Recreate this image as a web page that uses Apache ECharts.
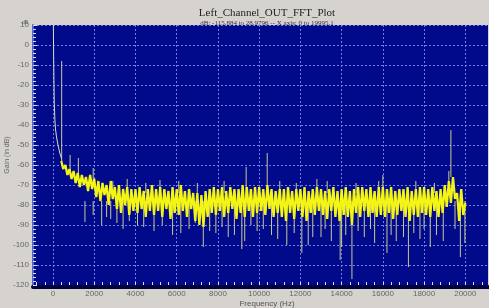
<!DOCTYPE html>
<html>
<head>
<meta charset="utf-8">
<script src="https://cdn.jsdelivr.net/npm/echarts@6/dist/echarts.min.js"></script>
<style>
  html, body { margin: 0; padding: 0; background: #d6d3ce; }
  #myChart { width: 489px; height: 308px; }
</style>
</head>
<body>
<div id="myChart"></div>
<script>
// x tick labels (Hz)
var xTicks = [0, 2000, 4000, 6000, 8000, 10000, 12000, 14000, 16000, 18000, 20000];
var xMinorStep = 400;

// steep low-frequency roll-off at the left edge
var lowFreq = [15, 30, 45, 63, 90, 121, 170, 243, 330, 420];
var lowGain = [14, -5, -18, -29, -37, -42, -46, -50, -54, -57];

// noise floor, one value every 100 Hz from 400 Hz to 20000 Hz
var noiseStart = 400;
var noiseStep = 100;
var noiseGain = [
  -58, -62, -60, -65, -62, -67,
  -63, -69, -64, -71, -65, -70, -66, -73, -65, -72,
  -67, -76, -68, -78, -69, -75, -70, -80, -68, -77,
  -71, -82, -70, -84, -72, -80, -71, -85, -72, -83,
  -72, -84, -71, -82, -73, -86, -72, -83, -70, -85,
  -72, -83, -71, -86, -72, -82, -73, -87, -71, -84,
  -72, -85, -70, -83, -73, -86, -72, -82, -74, -88,
  -74, -90, -75, -91, -73, -86, -72, -84, -71, -85,
  -72, -83, -71, -86, -73, -84, -71, -82, -72, -87,
  -72, -84, -70, -86, -71, -83, -72, -86, -71, -84,
  -71, -83, -72, -85, -70, -82, -72, -86, -73, -84,
  -72, -86, -72, -88, -71, -84, -73, -87, -72, -83,
  -72, -86, -71, -88, -73, -84, -72, -85, -71, -83,
  -72, -85, -73, -87, -72, -83, -71, -86, -73, -88,
  -72, -85, -71, -86, -73, -90, -72, -84, -71, -86,
  -71, -83, -72, -86, -71, -84, -73, -86, -71, -85,
  -71, -86, -72, -84, -71, -87, -73, -85, -72, -83,
  -72, -86, -71, -88, -73, -85, -72, -86, -71, -84,
  -71, -85, -72, -86, -71, -83, -73, -86, -72, -84,
  -70, -81, -68, -79, -66, -77, -74, -88, -72, -85,
  -79
];

// upward spikes: frequency, foot, peak (dB)
var upFreq = [420, 830, 1230, 1950, 2900, 3600, 4500, 5190, 6100, 7000, 8300, 9370,
  10390, 11000, 11800, 12800, 13300, 14700, 15800, 16000, 17600, 18500, 19200, 19300];
var upFoot = [-58, -64, -66, -70, -74, -74, -74, -74, -74, -74, -74, -75,
  -75, -74, -74, -75, -74, -74, -74, -74, -74, -74, -68, -66];
var upPeak = [-8, -55, -56.5, -61.5, -68, -67, -69, -67.5, -68, -69, -68, -61,
  -54, -68, -69, -67, -68, -69, -68, -65, -68, -69, -63, -42.5];

// downward spikes: frequency, trough (dB), hanging from the band level
var bandLevel = -78;
var downFreq = [1550, 1950, 2360, 2600, 2800, 3100, 3400, 3700, 4100, 4400, 4900, 5300,
  5800, 6200, 6600, 6900, 7290, 7600, 7900, 8200, 8500, 8800, 9160, 9300, 9600, 9900,
  10200, 10600, 10900, 11340, 11700, 12070, 12380, 12600, 13000, 13200, 13500, 13930,
  14000, 14200, 14500, 14800, 15100, 15400, 15600, 16200, 16400, 16650, 17000, 17240,
  17500, 17800, 18000, 18300, 18600, 18930, 19500, 19760, 19980];
var downTrough = [-88.5, -85, -90, -86, -87, -89, -92, -88, -90, -91, -93, -90,
  -95, -94, -92, -89, -101, -93, -94, -91, -96, -95, -102, -98, -90, -93,
  -92, -95, -97, -100, -94, -104, -100, -96, -96, -92, -98, -107.5,
  -101, -95, -117, -93, -96, -92, -99, -104, -95, -98, -96, -111,
  -94, -97, -92, -101, -95, -98, -92, -106, -99];

var lowData = lowFreq.map(function (f, i) { return [f, lowGain[i]]; });
var noiseData = noiseGain.map(function (g, i) { return [noiseStart + i * noiseStep, g]; });
var spikeData = upFreq.map(function (f, i) { return [f, upFoot[i], upPeak[i]]; })
  .concat(downFreq.map(function (f, i) { return [f, downTrough[i], bandLevel]; }));

var xMinor = [];
for (var v = -800; v <= 21000; v += xMinorStep) xMinor.push(v);

var labelFont = { fontFamily: 'Liberation Sans', fontSize: 8, color: '#666' };

var myChart = echarts.init(document.getElementById('myChart'));
myChart.setOption({
  backgroundColor: '#d6d3ce',
  animation: false,
  title: [
    { text: 'Left_Channel_OUT_FFT_Plot', left: 262, top: 3, textAlign: 'center',
      textStyle: { fontFamily: 'Liberation Serif', fontSize: 11, fontWeight: 'normal', color: '#222' } },
    { text: 'dB: -115.884 to 28.9796 -- X axis: 0 to 19995.1', left: 262, top: 15, textAlign: 'center',
      textStyle: { fontFamily: 'Liberation Serif', fontSize: 7, fontWeight: 'normal', color: '#333' } },
    { text: 'dB', left: 17, top: 15,
      textStyle: { fontFamily: 'Liberation Sans', fontSize: 5, fontWeight: 'normal', color: '#555' } },
    { text: 'Frequency (Hz)', left: 262, top: 295, textAlign: 'center',
      textStyle: { fontFamily: 'Liberation Sans', fontSize: 8, fontWeight: 'normal', color: '#555' } },
    { text: 'Thursday, April 05, 2008, 4:41 PM', left: 2, top: 304,
      textStyle: { fontFamily: 'Liberation Sans', fontSize: 7, fontWeight: 'normal', color: '#555' } },
    { text: 'Audio Test Sys', left: 437, top: 304,
      textStyle: { fontFamily: 'Liberation Sans', fontSize: 7, fontWeight: 'normal', color: '#555' } }
  ],
  grid: {
    left: 33, right: 1, top: 25, height: 260,
    outerBoundsMode: 'none', containLabel: false,
    show: true, backgroundColor: '#020a8c', borderWidth: 0
  },
  xAxis: [
    {
      type: 'value', min: -970, max: 21100,
      offset: 2,
      axisLine: { show: true, onZero: false, lineStyle: { color: '#00003c', width: 4 } },
      axisTick: { show: false, customValues: xTicks },
      axisLabel: Object.assign({ customValues: xTicks, margin: 3, formatter: function (v) { return String(v); } }, labelFont),
      splitLine: { show: true, lineStyle: { color: '#6f7fe6', type: [2, 2], width: 1 } }
    },
    {
      type: 'value', min: -970, max: 21100, position: 'bottom',
      axisLine: { show: false, onZero: false },
      axisTick: { show: true, inside: true, length: 3, customValues: xMinor, lineStyle: { color: '#dde' } },
      axisLabel: { show: false },
      splitLine: { show: false }
    }
  ],
  yAxis: {
    type: 'value', min: -120, max: 10, interval: 10,
    name: 'Gain (in dB)', nameLocation: 'middle', nameGap: 22, nameRotate: 90,
    nameMoveOverlap: false,
    nameTextStyle: { fontFamily: 'Liberation Sans', fontSize: 7, color: '#666' },
    axisLine: { show: true, onZero: false, lineStyle: { color: '#4c66d8', width: 2 } },
    axisTick: { show: true, inside: true, length: 4, lineStyle: { color: '#dde' } },
    minorTick: { show: true, splitNumber: 5, length: 3, lineStyle: { color: '#dde' } },
    axisLabel: Object.assign({ margin: 4 }, labelFont),
    splitLine: { show: true, lineStyle: { color: '#6f7fe6', type: [2, 2], width: 1 } }
  },
  series: [
    {
      name: 'spikes', type: 'custom',
      data: spikeData,
      encode: { x: 0, y: [1, 2] },
      renderItem: function (params, api) {
        var a = api.coord([api.value(0), api.value(1)]);
        var b = api.coord([api.value(0), api.value(2)]);
        return {
          type: 'line',
          shape: { x1: a[0], y1: a[1], x2: b[0], y2: b[1] },
          style: { stroke: '#c9c98f', lineWidth: 1 }
        };
      }
    },
    {
      name: 'low', type: 'line', data: lowData,
      showSymbol: false, lineStyle: { color: '#dcdcb4', width: 1 }
    },
    {
      name: 'noise', type: 'line', data: noiseData,
      showSymbol: false, lineStyle: { color: '#f5f514', width: 2.3 }
    }
  ]
});
</script>
</body>
</html>
